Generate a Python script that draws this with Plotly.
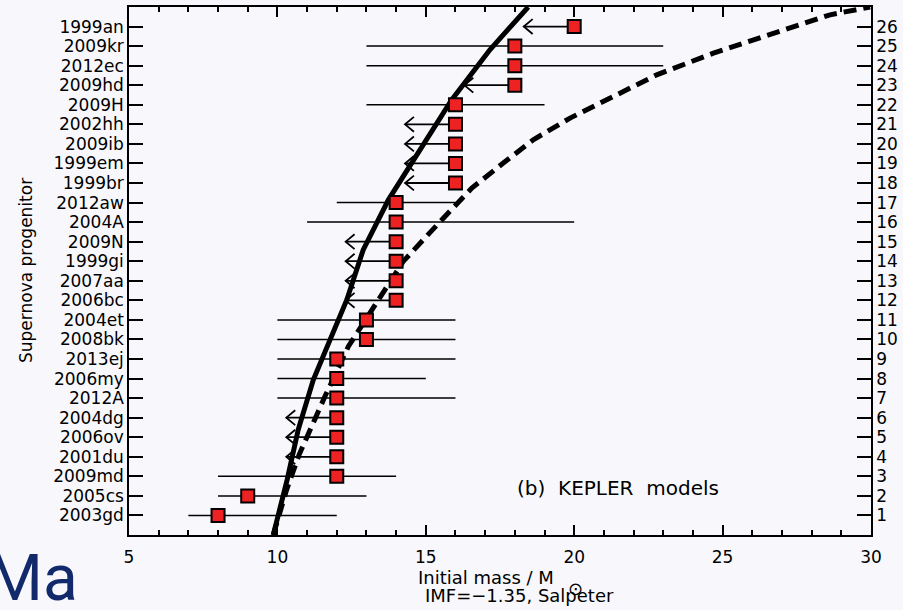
import plotly.graph_objects as go

# ---- data ----
names = ["2003gd", "2005cs", "2009md", "2001du", "2006ov", "2004dg", "2012A", "2006my",
         "2013ej", "2008bk", "2004et", "2006bc", "2007aa", "1999gi", "2009N", "2004A",
         "2012aw", "1999br", "1999em", "2009ib", "2002hh", "2009H", "2009hd", "2012ec",
         "2009kr", "1999an"]
rank = list(range(1, 27))
mass = [8, 9, 12, 12, 12, 12, 12, 12, 12, 13, 13, 14, 14, 14, 14, 14, 14,
        16, 16, 16, 16, 16, 18, 18, 18, 20]
mass_low = [7, 8, 8, 10.3, 10.3, 10.3, 10, 10, 10, 10, 10, 12.3, 12.3, 12.3, 12.3, 11, 12,
            14.3, 14.3, 14.3, 14.3, 13, 16.3, 13, 13, 18.3]
mass_high = [12, 13, 14, None, None, None, 16, 15, 16, 16, 16, None, None, None, None, 20, 16,
             None, None, None, None, 19, None, 23, 23, None]   # None -> upper limit

# model curves (mass, rank)
solid_m = [9.86, 10.33, 10.70, 11.21, 12.34, 12.89, 13.74, 14.58, 15.87, 17.16, 18.45]
solid_r = [0.0, 2.83, 5.38, 7.94, 12.03, 14.58, 17.14, 19.19, 22.25, 24.81, 27.0]
dash_m = [9.86, 10.31, 10.73, 11.27, 11.60, 12.39, 13.18, 14.24, 15.59, 16.55, 17.61,
          18.62, 19.86, 21.09, 22.78, 24.69, 26.71, 28.62, 29.97]
dash_r = [0.0, 2.31, 4.10, 5.98, 7.08, 9.64, 11.52, 13.99, 16.20, 17.74, 19.02,
          20.21, 21.32, 22.25, 23.53, 24.64, 25.66, 26.60, 27.0]

x_ticks = [5, 10, 15, 20, 25, 30]

# ---- styling ----
FONT = "DejaVu Sans"
BG = "#F8F8FC"
ARROW_DX = 0.30
ARROW_DY = 0.38

fig = go.Figure()

# error bars
ex, ey = [], []
for m_lo, m_hi, r in zip(mass_low, mass_high, rank):
    if m_hi is not None:
        ex += [m_lo, m_hi, None]
        ey += [r, r, None]
fig.add_trace(go.Scatter(x=ex, y=ey, mode="lines", line=dict(color="black", width=1.5),
                         hoverinfo="skip", showlegend=False))

# upper-limit arrows
ax, ay = [], []
for m, m_lo, m_hi, r in zip(mass, mass_low, mass_high, rank):
    if m_hi is None:
        ax += [m, m_lo, None, m_lo + ARROW_DX, m_lo, m_lo + ARROW_DX, None]
        ay += [r, r, None, r + ARROW_DY, r, r - ARROW_DY, None]
fig.add_trace(go.Scatter(x=ax, y=ay, mode="lines", line=dict(color="black", width=1.8),
                         hoverinfo="skip", showlegend=False))

# model curves
fig.add_trace(go.Scatter(x=solid_m, y=solid_r, mode="lines",
                         line=dict(color="black", width=5), showlegend=False))
fig.add_trace(go.Scatter(x=dash_m, y=dash_r, mode="lines",
                         line=dict(color="black", width=5, dash="13px,7px"), showlegend=False))

# squares
fig.add_trace(go.Scatter(x=mass, y=rank, mode="markers",
                         marker=dict(symbol="square", size=13, color="#EE2222",
                                     line=dict(color="black", width=2)),
                         text=names, showlegend=False))

# dummy for right axis
fig.add_trace(go.Scatter(x=[5], y=[0], yaxis="y2", mode="markers",
                         marker=dict(opacity=0), hoverinfo="skip", showlegend=False))

tickfont = dict(family=FONT, size=17, color="black")
fig.update_layout(
    width=903, height=610,
    margin=dict(l=129, r=32, t=7, b=75),
    paper_bgcolor=BG, plot_bgcolor=BG,
    xaxis=dict(range=[5, 30], tickvals=x_ticks, ticks="inside", ticklen=10, tickwidth=1.5,
               tickcolor="black", showline=True, linecolor="black", linewidth=1.5,
               mirror="ticks", showgrid=False, zeroline=False, tickfont=tickfont,
               ticklabelstandoff=6, automargin=False,
               minor=dict(dtick=1, ticks="inside", ticklen=5, tickwidth=1.5,
                          tickcolor="black", showgrid=False)),
    yaxis=dict(range=[0, 27], tickvals=rank, ticktext=names, ticks="inside", ticklen=14,
               tickwidth=1.5, tickcolor="black", showline=True, linecolor="black",
               linewidth=1.5, showgrid=False, zeroline=False, tickfont=tickfont,
               automargin=False),
    yaxis2=dict(range=[0, 27], tickvals=rank, ticktext=[str(r) for r in rank],
                overlaying="y", side="right", ticks="inside", ticklen=14, tickwidth=1.5,
                tickcolor="black", showline=True, linecolor="black", linewidth=1.5,
                showgrid=False, zeroline=False, tickfont=tickfont, automargin=False),
    annotations=[
        dict(text="(b)\u00a0 KEPLER\u00a0 models", xref="paper", yref="paper", x=0.659, y=0.089,
             xanchor="center", yanchor="middle", showarrow=False,
             font=dict(family=FONT, size=20, color="black")),
        dict(text="Supernova progenitor", xref="paper", yref="paper", x=-0.1388, y=0.5,
             xanchor="center", yanchor="middle",
             textangle=-90, showarrow=False, font=dict(family=FONT, size=17, color="black")),
        dict(text="Initial mass / M", xref="paper", yref="paper", x=0.3868, y=-0.0814,
             xanchor="left", yanchor="middle", showarrow=False,
             font=dict(family=FONT, size=18, color="black")),
        dict(text="⊙", xref="paper", yref="paper", x=0.602, y=-0.1004,
             xanchor="center", yanchor="middle", showarrow=False,
             font=dict(family=FONT, size=18, color="black")),
        dict(text="IMF=−1.35, Salpeter", xref="paper", yref="paper", x=0.3958, y=-0.1146,
             xanchor="left", yanchor="middle", showarrow=False,
             font=dict(family=FONT, size=18, color="black")),
        dict(text="Ma", xref="paper", yref="paper", x=-0.194, y=-0.008, xanchor="left",
             yanchor="top", showarrow=False,
             font=dict(family="Roboto", size=64, color="#12296B")),
    ],
)

fig.write_html("out.html", config={"displayModeBar": False},
               post_script="document.body.style.margin='0';")
